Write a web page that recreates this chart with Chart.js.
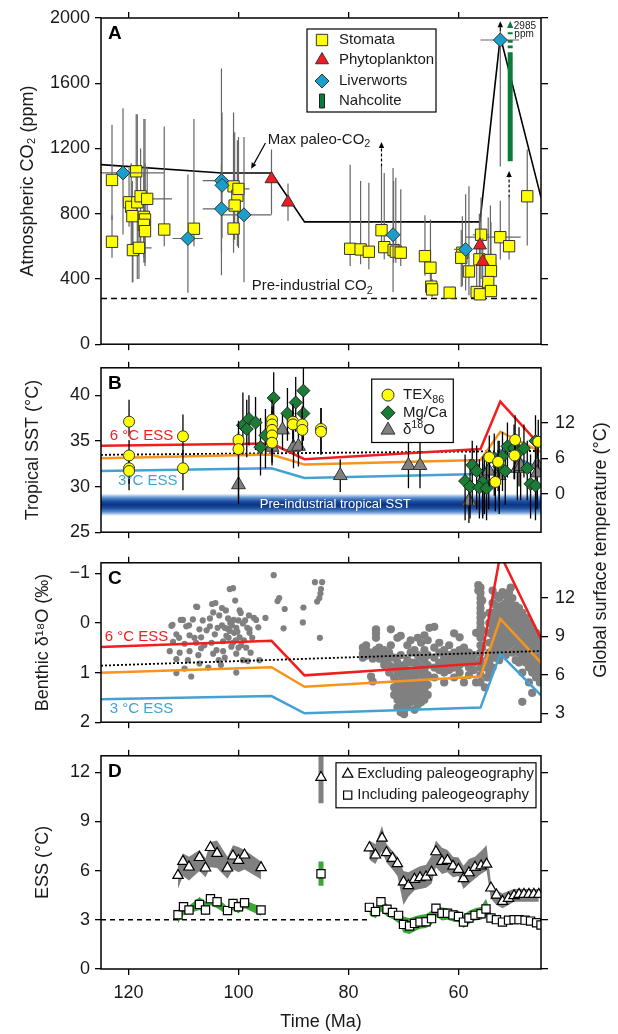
<!DOCTYPE html>
<html>
<head>
<meta charset="utf-8">
<title>Cretaceous–Eocene CO2, temperature and ESS</title>
<script src="https://cdn.jsdelivr.net/npm/chart.js@4.4.0/dist/chart.umd.min.js"></script>
<style>
  html, body { margin: 0; padding: 0; background: #fff; }
  #page { position: relative; width: 618px; height: 1034px; overflow: hidden; font-family: "Liberation Sans", Arial, sans-serif; }
  #page canvas { position: absolute; left: 0; }
  #gst { position: absolute; left: 440px; top: 539px; width: 320px; height: 22px; line-height: 22px;
         font-size: 18px; text-align: center; color: #1a1a1a; transform: rotate(-90deg); white-space: nowrap; }
</style>
</head>
<body>
<div id="page">
  <canvas id="panelA" width="618" height="360" style="top:0px"></canvas>
  <canvas id="panelB" width="618" height="200" style="top:350px"></canvas>
  <canvas id="panelC" width="618" height="195" style="top:545px"></canvas>
  <canvas id="panelD" width="618" height="294" style="top:740px"></canvas>
  <div id="gst">Global surface temperature (°C)</div>
</div>
<script>
// ---------- shared time axis ----------
const AGE_MIN = 45, AGE_MAX = 125;
const AGE_TICKS = [120, 100, 80, 60];

// ---------- panel A: atmospheric CO2 ----------
const stomataAge = [123.0,123.0,118.6,119.9,119.5,119.3,118.4,117.8,116.6,117.2,117.0,117.2,117.0,119.2,118.1,113.5,108.1,100.9,100.2,100.0,100.7,100.9,
  79.7,77.8,76.3,74.0,73.5,71.8,71.4,70.5,66.1,65.1,64.95,64.8,61.6,59.3,59.5,55.9,58.1,56.7,56.1,56.2,54.2,54.1,54.6,54.1,52.4,50.8,47.5];
const stomataCO2 = [1007,628,1060,870,842,785,870,907,891,781,765,732,693,577,591,703,708,968,911,952,850,709,
  585,581,567,699,595,577,567,561,540,469,353,336,316,561,530,671,446,320,306,520,516,448,381,326,656,601,907];
const stomataLo = [760,530,880,720,540,380,400,600,700,530,480,500,500,380,400,600,600,620,600,590,640,560,
  480,490,460,600,520,500,500,480,420,330,300,290,290,357,350,400,300,290,285,350,380,300,300,290,520,520,605];
const stomataHi = [1345,790,1410,1080,1110,1000,1410,1200,1090,1380,1110,1050,1380,900,760,1335,1380,1290,1250,1270,1300,1420,
  1100,1000,990,1090,1050,1000,1020,950,790,765,450,400,350,785,700,900,968,600,500,800,850,750,777,500,880,900,1193];
const stomataAgeErr = [null,null,null,null,null,null,null,null,[112.1,119.5],null,null,null,null,null,[115.8,118.8],null,null,null,null,[98,101],null,null,
  null,null,null,null,null,null,null,null,null,null,null,null,null,null,null,[54.4,57.4],null,null,null,null,null,null,null,null,[48.7,58.7],null,null];

const liverAge = [121.0,109.2,103.1,103.0,103.1,99.0,71.9,58.7,52.4];
const liverCO2 = [1050,648,1003,974,830,793,671,581,1865];
const liverLo = [672,315,423,650,560,380,320,330,1090];
const liverHi = [1447,1040,1690,1420,1100,1270,1080,920,1920];
const liverAgeErr = [[113.5,125],[106.5,112],[101,106.5],null,[101,106.5],[94,103],[71,73.3],[57.8,60.8],[49,56]];

const phytoAge = [94.0,91.0,56.1,55.6];
const phytoCO2 = [1013,870,607,506];
const phytoLo = [796,755,470,380];
const phytoHi = [1193,986,780,650];

const nahAge = [50.6,50.6,50.6,50.6,50.6,50.6,50.6,50.6,50.6,50.6,50.6];
const nahCO2 = [1121,1790,null,1815,1831,null,1849,1865,null,1900,1912];

const maxAge = [125,103,94,88,56.1,52.4,45];
const maxCO2 = [1101,1050,1050,750,750,1886,900];
const preAge = [125,45];
const preCO2 = [280,280];

// ---------- panel B: tropical SST ----------
const texAge = [119.9,119.9,119.9,119.9,110.1,110.1,100.0,100.0,93.9,93.9,93.9,93.9,93.9,90.1,90.1,88.4,88.4,85.0,85.0,54.4,52.8,53.3,49.7,49.8,45.5];
const texSST = [37.1,33.4,32.0,31.7,35.5,32.0,35.1,34.1,37.3,36.8,36.2,35.6,34.8,37.1,36.8,36.8,36.2,36.3,36.0,33.2,32.7,30.5,35.1,33.4,34.9];
const texLo  = [35.5,31.8,30.3,29.6,33.5,29.6,33.0,28.6,35.0,34.8,34.0,33.5,32.6,35.2,34.8,34.6,34.0,33.5,33.5,30.0,29.5,27.3,32.5,30.8,32.0];
const texHi  = [39.5,35.1,33.6,33.5,37.9,34.0,37.2,36.0,39.5,38.8,38.3,37.6,36.8,39.0,38.8,38.8,38.3,38.6,38.6,35.6,35.0,33.0,37.8,35.8,37.3];

const mgAge = [99.2,98.1,98.5,96.9,96.0,95.1,93.6,91.1,89.6,88.2,88.2,
  58.8,57.9,57.5,56.7,55.6,56.2,54.9,53.5,52.6,52.0,51.5,51.1,49.9,49.0,48.1,47.5,46.9,46.0,46.0];
const mgSST = [36.7,37.4,36.3,37.0,34.3,35.6,39.7,38.0,39.2,40.5,38.0,
  30.6,30.0,32.35,31.7,30.5,29.9,29.8,33.1,32.2,33.3,31.7,34.4,34.2,33.8,34.2,32.0,30.3,30.1,35.0];
const mgLo = [33.5,34.5,33.2,34.0,31.2,32.0,36.5,35.0,36.0,37.0,35.0,
  26.3,26.5,28.0,27.5,26.8,26.5,26.3,29.0,28.5,29.5,28.0,31.0,30.8,30.0,31.0,28.5,26.5,26.3,32.0];
const mgHi = [40.3,40.0,39.5,39.8,37.5,38.5,42.5,40.8,42.0,43.0,41.0,
  33.5,33.0,35.0,34.5,33.3,33.0,32.8,35.8,35.0,36.0,34.5,37.0,36.8,36.5,36.8,35.0,33.5,33.0,37.8];

const d18Age = [100.0,93.9,92.0,90.0,89.1,81.5,69.1,67.0,58.1,55.6,55.3,54.5,52.6,49.3,48.7,45.7,45.7];
const d18SST = [30.2,34.3,36.2,34.3,34.4,31.2,32.3,32.3,28.4,30.0,31.0,31.7,31.2,32.0,32.2,32.4,31.5];
const d18Lo  = [28.1,32.3,34.0,32.0,32.2,29.4,29.8,29.8,26.0,26.5,27.0,27.5,27.0,28.5,28.5,28.5,27.5];
const d18Hi  = [32.2,36.3,38.0,36.3,36.5,33.0,34.8,34.8,30.5,32.5,33.5,34.0,33.5,34.5,34.5,35.0,34.0];

const essAge = [125,94,88,56,52.4,45];
const ess6B = [34.46,34.7,33.0,34.1,39.3,34.4];
const essMidB = [33.1,33.5,32.4,32.9,36.0,33.8];
const ess3B = [31.7,32.0,30.94,31.36,34.0,31.9];
const dotAge = [125,45];
const dotB = [33.47,33.9];
const sstBandAge = [125,45];
const sstBandTop = [29.2,29.2];
const sstBandBottom = 26.8;

// ---------- panel C: benthic d18O (left) and global temperature (right) ----------
const ess6C = [8.18,8.66,5.96,6.89,15.4,8.8];
const essMidC = [6.16,6.6,5.07,5.87,10.37,6.96];
const ess3C = [4.09,4.34,3.0,3.44,7.62,4.4];
const dotC = [6.72,7.86];
// Cretaceous and scattered Late Cretaceous values
const benthicK = [
  [93.6,-0.96],[101.6,-0.68],[101.0,-0.70],[100.6,-0.45],[104.8,-0.38],[104.2,-0.40],[107.7,-0.33],[107.5,-0.32],[103.0,-0.30],[99.8,-0.25],[102.3,-0.25],[104.6,-0.21],[99.6,-0.20],[98.1,-0.15],[103.5,-0.15],
  [110.1,-0.06],[110.5,-0.06],[108.3,-0.07],[105.2,-0.09],[101.9,-0.09],[100.9,-0.06],[96.8,-0.06],[95.1,-0.10],[97.2,-0.10],[100.0,-0.05],[98.8,-0.05],[106.5,-0.05],
  [112.2,0.06],[112.0,0.04],[109.5,0.07],[109.0,0.05],[107.1,0.13],[105.2,0.07],[103.8,0.10],[103.0,0.05],[102.5,0.10],[102.0,0.12],[101.6,0.16],[101.5,0.00],[101.2,0.05],[100.4,0.10],[99.2,0.01],[98.4,0.10],[98.0,0.13],[96.4,0.09],
  [111.3,0.23],[110.8,0.30],[108.9,0.25],[108.0,0.30],[106.8,0.29],[105.8,0.15],[104.3,0.23],[102.2,0.26],[101.8,0.30],[100.8,0.20],[100.2,0.18],[99.8,0.29],[98.0,0.20],[97.5,0.30],
  [111.9,0.38],[109.8,0.42],[107.7,0.40],[106.2,0.45],[104.9,0.40],[102.8,0.37],[101.0,0.40],[101.3,0.48],[100.5,0.35],[99.5,0.45],[99.0,0.35],
  [112.5,0.57],[110.7,0.60],[108.9,0.57],[106.8,0.51],[104.6,0.62],[104.0,0.55],[102.8,0.57],[100.4,0.62],[100.0,0.50],[98.6,0.50],[97.8,0.60],
  [111.3,0.73],[109.2,0.75],[107.3,0.65],[107.1,0.82],[103.6,0.75],[102.5,0.70],[99.2,0.75],[98.3,0.77],[96.2,0.75],
  [111.3,1.01],[109.8,0.92],[108.6,1.08],[105.5,0.90],[103.2,0.85],[100.4,1.00],
  [92.9,-0.44],[92.6,-0.50],[91.6,-0.28],[91.8,0.11],[88.2,-0.31],[88.3,-0.01],[86.1,-0.82],[84.8,-0.82],[85.0,-0.68],[85.1,-0.59],[85.3,-0.50],[85.7,-0.43],[85.2,0.30]
];
// dense Maastrichtian to Eocene cloud
const benthicPg = [
  [77.4,0.50],[77.4,0.62],[77.4,0.70],[76.8,0.45],[76.8,0.55],[76.8,0.66],[75.9,1.08],[75.9,0.60],[75.6,1.18],[75.6,0.72],[75.0,0.13],[75.0,0.21],[75.0,0.30],[75.0,0.55],[75.0,0.65],
  [74.4,0.50],[74.4,0.60],[74.4,0.72],[73.5,0.55],[73.5,0.65],[73.5,0.78],[73.5,0.85],[72.6,0.60],[72.6,0.70],[72.6,0.85],[72.6,1.00],[72.3,0.13],[72.3,0.45],
  [71.7,0.70],[71.7,0.90],[71.7,1.10],[71.7,1.30],[71.7,1.45],
  [71.1,0.30],[71.1,0.80],[71.1,1.00],[71.1,1.20],[71.1,1.40],[71.1,1.55],[71.1,1.70],
  [70.5,0.26],[70.5,0.65],[70.5,0.90],[70.5,1.05],[70.5,1.20],[70.5,1.35],[70.5,1.50],[70.5,1.65],[70.5,1.80],
  [69.9,0.85],[69.9,1.00],[69.9,1.15],[69.9,1.30],[69.9,1.45],[69.9,1.60],[69.9,1.75],[69.9,1.84],
  [69.3,0.45],[69.3,0.75],[69.3,0.95],[69.3,1.10],[69.3,1.25],[69.3,1.40],[69.3,1.55],[69.3,1.70],
  [68.7,0.35],[68.7,0.60],[68.7,0.80],[68.7,1.00],[68.7,1.15],[68.7,1.30],[68.7,1.45],[68.7,1.60],
  [68.0,0.55],[68.0,0.80],[68.0,0.95],[68.0,1.10],[68.0,1.25],[68.0,1.40],[68.0,1.55],[68.0,1.75],
  [67.4,0.30],[67.4,0.65],[67.4,0.85],[67.4,1.00],[67.4,1.20],[67.4,1.35],[67.4,1.50],[67.4,1.65],
  [66.8,0.40],[66.8,0.70],[66.8,0.90],[66.8,1.05],[66.8,1.25],[66.8,1.40],[66.8,1.60],
  [66.2,0.25],[66.2,0.55],[66.2,0.75],[66.2,0.95],[66.2,1.15],[66.2,1.35],[66.2,1.55],
  [65.6,0.35],[65.6,0.65],[65.6,0.85],[65.6,1.05],[65.6,1.25],[65.6,1.45],
  [65.3,0.10],[64.4,0.08],[64.4,0.50],[64.4,0.70],[64.4,0.90],[64.4,1.10],
  [63.5,0.40],[63.5,0.60],[63.5,0.80],[63.5,0.95],
  [62.6,0.55],[62.6,0.70],[62.6,0.85],[62.6,1.00],[62.6,1.20],
  [61.7,0.45],[61.7,0.65],[61.7,0.80],[61.7,0.95],
  [60.8,0.21],[60.8,0.60],[60.8,0.75],[60.8,0.90],[60.8,1.10],
  [59.8,0.29],[59.8,0.55],[59.8,0.70],[59.8,0.85],[59.8,1.00],
  [59.0,0.50],[59.0,0.65],[59.0,0.80],[59.0,1.20],
  [58.1,0.60],[58.1,0.75],[58.1,0.90],[58.1,1.05],
  [57.2,0.65],[57.2,0.80],[57.2,0.95],[56.8,0.20],[56.8,1.20],
  [56.4,-0.76],[56.4,-0.65],[56.0,-0.71],[56.0,-0.60],[56.0,-0.50],[56.0,-0.40],[56.0,-0.30],[56.0,-0.20],[56.0,-0.10],[56.0,0.00],[56.0,0.10],[56.0,0.20],
  [56.0,0.30],[56.0,0.45],[56.0,0.60],[56.0,0.75],[56.0,0.90],[56.0,1.05],[56.0,1.20],
  [55.7,-0.45],[55.7,-0.15],[55.7,0.15],[55.7,0.50],[55.7,0.85],
  [55.0,0.90],[54.8,1.10],[55.2,1.30],[54.6,0.70],
  [54.4,-0.20],[54.4,0.00],[54.4,0.20],[54.4,0.40],[54.4,0.60],[54.4,0.80],[54.4,1.00],
  [53.8,-0.65],[53.8,-0.40],[53.8,-0.20],[53.8,-0.05],[53.8,0.10],[53.8,0.25],[53.8,0.40],[53.8,0.55],[53.8,0.70],[53.8,0.90],
  [53.2,-0.55],[53.2,-0.35],[53.2,-0.20],[53.2,-0.05],[53.2,0.10],[53.2,0.25],[53.2,0.40],[53.2,0.55],[53.2,0.70],
  [52.6,-0.50],[52.6,-0.30],[52.6,-0.15],[52.6,0.00],[52.6,0.15],[52.6,0.30],[52.6,0.45],[52.6,0.60],[52.6,0.75],
  [52.0,-0.62],[52.0,-0.35],[52.0,-0.20],[52.0,-0.05],[52.0,0.10],[52.0,0.25],[52.0,0.40],[52.0,0.55],
  [51.4,-0.55],[51.4,-0.40],[51.4,-0.25],[51.4,-0.10],[51.4,0.05],[51.4,0.20],[51.4,0.35],[51.4,0.50],[51.4,0.65],
  [50.8,-0.62],[50.8,-0.45],[50.8,-0.30],[50.8,-0.15],[50.8,0.00],[50.8,0.15],[50.8,0.30],[50.8,0.45],[50.5,-0.71],
  [50.2,-0.50],[50.2,-0.35],[50.2,-0.20],[50.2,-0.05],[50.2,0.10],[50.2,0.25],[50.2,0.40],[50.2,0.60],
  [49.6,-0.35],[49.6,-0.20],[49.6,-0.05],[49.6,0.10],[49.6,0.25],[49.6,0.40],[49.6,0.55],[49.6,0.75],
  [49.0,-0.30],[49.0,-0.15],[49.0,0.00],[49.0,0.15],[49.0,0.30],[49.0,0.45],[49.0,0.60],[49.0,0.80],
  [48.4,-0.20],[48.4,-0.05],[48.4,0.10],[48.4,0.25],[48.4,0.40],[48.4,0.55],[48.4,0.70],[48.4,1.00],[48.4,1.59],
  [47.8,-0.10],[47.8,0.05],[47.8,0.20],[47.8,0.35],[47.8,0.50],[47.8,0.65],[47.8,0.80],
  [47.2,0.00],[47.2,0.15],[47.2,0.30],[47.2,0.45],[47.2,0.60],[47.2,0.75],[47.2,0.90],[47.2,1.20],
  [46.6,0.10],[46.6,0.25],[46.6,0.40],[46.6,0.55],[46.6,0.70],[46.6,0.85],[46.6,1.00],[46.6,1.41],
  [45.9,0.20],[45.9,0.35],[45.9,0.50],[45.9,0.65],[45.9,0.80],[45.9,0.95],[45.9,1.10],
  [45.2,0.30],[45.2,0.45],[45.2,0.60],[45.2,0.75],[45.2,0.90],[45.2,1.05],[45.2,1.20]
];

// ---------- panel D: ESS ----------
const triAgeK = [111.0,110.1,109.0,107.1,106.0,105.1,103.9,102.0,101.0,100.0,98.9,95.9];
const triK = [5.71,6.56,6.22,6.80,6.16,7.41,7.05,6.16,6.89,6.62,6.95,6.18];
const triHiK = [6.36,7.05,6.85,7.25,6.76,7.74,7.84,6.85,7.54,7.44,7.25,6.56];
const triLoK = [4.9,5.67,5.4,5.97,5.6,6.2,6.16,5.5,6.07,5.9,6.07,5.48];
const sqAgeK = [111.0,110.0,109.0,107.1,106.0,105.1,103.9,102.0,101.0,100.0,98.9,95.9];
const sqK = [3.31,3.80,3.60,3.94,3.60,4.29,4.10,3.56,4.00,3.80,4.04,3.60];
const sqHiK = [3.6,3.95,3.85,4.39,4.1,4.49,4.35,3.8,4.29,4.1,4.19,3.8];
const sqLoK = [2.8,3.3,3.4,3.6,3.3,3.9,3.7,3.3,3.6,3.4,3.7,3.25];

const triAgeC = [76.2,75.1,73.9,73.1,72.0,71.1,70.0,69.1,68.0,67.0,65.9,64.9,64.1,63.0,62.0,61.0,60.0,59.1,58.1,57.0,55.9,54.9,54.1,53.1,52.0,50.9,49.9,49.0,48.1,47.2,46.3,45.4];
const triC = [7.39,6.95,7.98,7.09,6.75,6.42,5.31,5.08,5.47,5.57,5.61,5.91,7.15,6.56,6.62,6.27,6.07,5.51,5.87,6.20,6.29,6.39,4.94,4.51,4.12,4.31,4.47,4.55,4.55,4.55,4.55,4.55];
const triHiC = [7.84,7.6,8.73,7.64,7.2,6.85,5.97,5.9,6.1,6.26,6.36,6.9,7.84,7.4,7.25,6.85,6.8,6.3,6.7,6.85,7.2,7.54,5.28,4.8,4.6,4.75,4.88,4.9,4.88,4.88,4.88,4.88];
const triLoC = [6.66,6.4,7.2,6.5,6.07,5.67,3.9,4.4,4.8,4.88,4.95,5.2,6.2,5.8,5.9,5.6,5.67,4.88,5.2,5.5,5.8,6.0,4.29,3.9,3.7,3.9,4.1,4.1,4.1,4.1,4.1,4.1];
const sqAgeC = [76.2,75.1,74.1,73.0,72.0,70.9,70.0,68.9,68.0,67.0,65.9,64.9,64.1,63.0,62.0,61.0,60.0,59.1,58.1,57.0,55.9,55.0,54.1,53.1,52.0,50.9,49.9,49.0,47.9,46.9,45.8,45.0];
const sqC = [3.76,3.50,4.10,3.64,3.45,3.27,2.72,2.62,2.78,2.86,2.88,3.07,3.70,3.40,3.40,3.30,3.20,2.86,3.11,3.27,3.37,3.66,3.11,3.01,2.86,2.98,3.01,3.01,2.98,2.92,2.82,2.68];
const sqHiC = [4.0,3.8,4.39,3.95,3.7,3.45,3.2,3.1,3.2,3.3,3.35,3.55,3.99,3.75,3.7,3.6,3.55,3.3,3.55,3.7,3.8,4.29,3.4,3.2,3.0,3.1,3.15,3.15,3.1,3.05,2.95,2.8];
const sqLoC = [3.3,3.1,3.5,3.2,3.05,2.8,2.22,2.13,2.3,2.45,2.5,2.7,3.2,2.95,3.0,2.9,2.85,2.5,2.75,2.95,3.0,3.2,2.85,2.8,2.7,2.85,2.9,2.9,2.85,2.8,2.7,2.55];

const singleAge = [85.0];
const singleTri = [11.68], singleTriRange = [10.1, 12.96];
const singleSq = [5.81], singleSqRange = [5.08, 6.56];
const essRefAge = [125, 76.5];
const essRef = [3, 3];

// ---------- colours ----------
const RED = '#f01e1e', ORANGE = '#f7941d', SKY = '#43a2d3';
const YELLOW = '#ffff00', LIVER = '#1b9ec9', PHYTO = '#ee1c24', NAH = '#0d7a3a';
const MGCA = '#1a7d35', GREY = '#808080', ESSGREEN = '#3aa635';
const FONT = '"Liberation Sans", Arial, sans-serif';

Chart.defaults.font.family = FONT;
Chart.defaults.color = '#1a1a1a';
Chart.defaults.animation = false;
Chart.defaults.events = [];
Chart.defaults.plugins.legend.display = false;
Chart.defaults.plugins.tooltip.enabled = false;

const pts = (xs, ys) => xs.map((x, i) => ({x, y: ys[i]}));
const pairs = (lo, hi) => lo.map((l, i) => [l, hi[i]]);

function lineDs(data, color, width, extra) {
  return Object.assign({data, borderColor: color, borderWidth: width, pointRadius: 0, fill: false,
    tension: 0, xAxisID: 'x', yAxisID: 'y', order: 10}, extra || {});
}
function pointDs(data, style, r, fill, stroke, extra) {
  return Object.assign({data, showLine: false, pointStyle: style, pointRadius: r,
    pointBackgroundColor: fill, pointBorderColor: stroke, pointBorderWidth: 1,
    borderColor: stroke, backgroundColor: fill, xAxisID: 'x', yAxisID: 'y', order: 1}, extra || {});
}

// axes: ticks outside on all four sides, labels only where the original has them
function scalesFor(g) {
  const grid = len => ({drawOnChartArea: false, drawTicks: true, tickLength: len, color: '#000', lineWidth: 1.3});
  const xAxis = (pos, h, show) => ({
    type: 'linear', position: pos, min: AGE_MIN, max: AGE_MAX, reverse: true,
    afterBuildTicks: s => { s.ticks = AGE_TICKS.map(v => ({value: v})); },
    afterFit: s => { s.height = h; },
    grid: grid(6), border: {display: false},
    ticks: {display: show, autoSkip: false, maxRotation: 0, padding: 7, font: {size: 18}, color: '#1a1a1a'},
    title: (g.xTitle && pos === 'bottom') ? {display: true, text: g.xTitle, font: {size: 18}, color: '#1a1a1a', padding: {top: 0, bottom: 1}} : {display: false}
  });
  const L = g.left, R = g.right;
  return {
    x: xAxis('bottom', g.bottomH, !!g.xTitle),
    x2: xAxis('top', g.topH, false),
    y: {
      type: 'linear', position: 'left', min: L.min, max: L.max, reverse: !!L.reverse,
      afterBuildTicks: s => { s.ticks = L.ticks.map(v => ({value: v})); },
      afterFit: s => { s.width = 101; },
      grid: grid(6), border: {display: false},
      ticks: {padding: 5, font: {size: 18}, color: '#1a1a1a', callback: v => v < 0 ? '\u2212' + Math.abs(v) : String(v)},
      title: {display: true, text: L.title, font: {size: 18}, color: '#1a1a1a', padding: {top: L.titlePad, bottom: 0}}
    },
    y2: {
      type: 'linear', position: 'right', min: R.min, max: R.max,
      afterBuildTicks: s => { s.ticks = R.ticks.map(v => ({value: v})); },
      afterFit: s => { s.width = 77; },
      grid: grid(7), border: {display: false},
      ticks: {display: !!R.labels, padding: 7, font: {size: 18}, color: '#1a1a1a'}
    }
  };
}

// error bars drawn just under the markers of their own dataset
const errorBars = {
  id: 'errorBars',
  beforeDatasetDraw(chart, args) {
    const ds = chart.data.datasets[args.index];
    if (!ds.errY && !ds.errX) return;
    const ctx = chart.ctx, a = chart.chartArea;
    const xs = chart.scales[ds.xAxisID], ys = chart.scales[ds.yAxisID];
    ctx.save();
    ctx.beginPath(); ctx.rect(a.left, a.top, a.right - a.left, a.bottom - a.top); ctx.clip();
    ctx.strokeStyle = ds.errColor || '#000';
    ctx.lineWidth = ds.errWidth || 1.2;
    ds.data.forEach((p, i) => {
      const px = xs.getPixelForValue(p.x), py = ys.getPixelForValue(p.y);
      ctx.beginPath();
      if (ds.errY && ds.errY[i]) { ctx.moveTo(px, ys.getPixelForValue(ds.errY[i][0])); ctx.lineTo(px, ys.getPixelForValue(ds.errY[i][1])); }
      if (ds.errX && ds.errX[i]) { ctx.moveTo(xs.getPixelForValue(ds.errX[i][0]), py); ctx.lineTo(xs.getPixelForValue(ds.errX[i][1]), py); }
      ctx.stroke();
    });
    ctx.restore();
  }
};

// text with sub/superscripts: segs = [[text, 0 normal | 1 sub | 2 sup], ...]
function richText(ctx, segs, x, y, size, color, align) {
  let total = 0;
  const parts = segs.map(([t, m]) => {
    const s = m ? size * 0.72 : size;
    ctx.font = s + 'px ' + FONT;
    const w = ctx.measureText(t).width;
    total += w;
    return {t, m, s, w};
  });
  let cx = align === 'center' ? x - total / 2 : align === 'right' ? x - total : x;
  ctx.fillStyle = color; ctx.textBaseline = 'middle'; ctx.textAlign = 'left';
  parts.forEach(p => {
    ctx.font = p.s + 'px ' + FONT;
    const dy = p.m === 1 ? size * 0.3 : p.m === 2 ? -size * 0.32 : 0;
    ctx.fillText(p.t, cx, y + dy);
    cx += p.w;
  });
}

function arrow(ctx, x0, y0, x1, y1, color, dash, head) {
  const ang = Math.atan2(y1 - y0, x1 - x0);
  const hx = x1 - Math.cos(ang) * head, hy = y1 - Math.sin(ang) * head;
  ctx.save();
  ctx.strokeStyle = color; ctx.fillStyle = color; ctx.lineWidth = 1.2;
  ctx.setLineDash(dash ? [3, 2] : []);
  ctx.beginPath(); ctx.moveTo(x0, y0); ctx.lineTo(hx, hy); ctx.stroke();
  ctx.setLineDash([]);
  ctx.beginPath(); ctx.moveTo(x1, y1);
  ctx.lineTo(hx + Math.sin(ang) * head * 0.45, hy - Math.cos(ang) * head * 0.45);
  ctx.lineTo(hx - Math.sin(ang) * head * 0.45, hy + Math.cos(ang) * head * 0.45);
  ctx.closePath(); ctx.fill();
  ctx.restore();
}

function drawMark(ctx, m, x, y) {
  const r = m.r;
  ctx.save();
  ctx.fillStyle = m.fill; ctx.strokeStyle = m.stroke || '#000'; ctx.lineWidth = m.lw || 1;
  ctx.beginPath();
  if (m.shape === 'rect') { const h = r * Math.SQRT1_2; ctx.rect(x - h, y - h, 2 * h, 2 * h); }
  else if (m.shape === 'rectRot') { ctx.moveTo(x, y - r); ctx.lineTo(x + r, y); ctx.lineTo(x, y + r); ctx.lineTo(x - r, y); ctx.closePath(); }
  else if (m.shape === 'triangle') {
    ctx.moveTo(x, y - r);
    ctx.lineTo(x + r * Math.sin(2 * Math.PI / 3), y - r * Math.cos(2 * Math.PI / 3));
    ctx.lineTo(x - r * Math.sin(2 * Math.PI / 3), y - r * Math.cos(2 * Math.PI / 3));
    ctx.closePath();
  }
  else if (m.shape === 'circle') ctx.arc(x, y, r, 0, Math.PI * 2);
  else if (m.shape === 'bar') ctx.rect(x - 2.5, y - r, 5, 2 * r);
  ctx.fill(); ctx.stroke();
  ctx.restore();
}

function drawLegend(ctx, a, L) {
  const bx = a.left + L.dx, by = a.top + L.dy;
  ctx.save();
  ctx.fillStyle = '#fff'; ctx.fillRect(bx, by, L.w, L.h);
  ctx.strokeStyle = '#000'; ctx.lineWidth = 1.2; ctx.strokeRect(bx, by, L.w, L.h);
  L.rows.forEach(r => {
    drawMark(ctx, r.mark, bx + L.symX, by + r.dy);
    richText(ctx, r.segs, bx + L.textX, by + r.dy, L.size, '#1a1a1a', 'left');
  });
  ctx.restore();
}

// panel frame, panel letter, annotations and legend box
function decor(cfg) {
  return {
    id: 'decor' + cfg.letter,
    afterDatasetsDraw(chart) {
      const ctx = chart.ctx, a = chart.chartArea;
      ctx.save();
      ctx.beginPath(); ctx.rect(a.left, a.top, a.right - a.left, a.bottom - a.top); ctx.clip();
      (cfg.notes || []).forEach(n => {
        const xs = chart.scales.x, ys = chart.scales[n.axis || 'y'];
        if (n.type === 'text') {
          richText(ctx, n.segs, xs.getPixelForValue(n.x), ys.getPixelForValue(n.y), n.size, n.color || '#1a1a1a', n.align || 'left');
        } else {
          arrow(ctx, xs.getPixelForValue(n.x), ys.getPixelForValue(n.y0),
                xs.getPixelForValue(n.x1 !== undefined ? n.x1 : n.x), ys.getPixelForValue(n.y1),
                n.color || '#000', n.dash, n.head || 5);
        }
      });
      ctx.restore();
      if (cfg.legend) drawLegend(ctx, a, cfg.legend);
    },
    afterDraw(chart) {
      const ctx = chart.ctx, a = chart.chartArea;
      ctx.save();
      ctx.strokeStyle = '#000'; ctx.lineWidth = 1.5;
      ctx.strokeRect(a.left, a.top, a.right - a.left, a.bottom - a.top);
      ctx.font = 'bold 19px ' + FONT; ctx.fillStyle = '#000'; ctx.textBaseline = 'middle'; ctx.textAlign = 'left';
      ctx.fillText(cfg.letter, a.left + 7, a.top + 16);
      ctx.restore();
    }
  };
}

// ---------- Panel A ----------
new Chart(document.getElementById('panelA'), {
  type: 'line',
  data: {datasets: [
    lineDs(pts(maxAge, maxCO2), '#000', 1.6, {order: 10}),
    lineDs(pts(preAge, preCO2), '#000', 1.6, {borderDash: [6, 4], order: 10}),
    lineDs(pts(nahAge, nahCO2), NAH, 5, {order: 9, borderCapStyle: 'butt', spanGaps: false}),
    pointDs(pts(stomataAge, stomataCO2), 'rect', 8, YELLOW, '#333', {order: 3, errY: pairs(stomataLo, stomataHi), errX: stomataAgeErr, errColor: '#666', errWidth: 1.2}),
    pointDs(pts(liverAge, liverCO2), 'rectRot', 7, LIVER, '#333', {order: 2, errY: pairs(liverLo, liverHi), errX: liverAgeErr, errColor: '#666', errWidth: 1.2}),
    pointDs(pts(phytoAge, phytoCO2), 'triangle', 7.5, PHYTO, '#333', {order: 1, errY: pairs(phytoLo, phytoHi), errColor: '#666', errWidth: 1.2})
  ]},
  options: {
    responsive: false, layout: {padding: 0},
    scales: scalesFor({topH: 18, bottomH: 15,
      left: {min: 0, max: 2000, ticks: [0, 400, 800, 1200, 1600, 2000], title: 'Atmospheric CO\u2082 (ppm)', titlePad: 17},
      right: {min: 0, max: 2000, ticks: [0, 400, 800, 1200, 1600, 2000], labels: false}})
  },
  plugins: [errorBars, decor({
    letter: 'A',
    notes: [
      {type: 'text', x: 94.7, y: 1254, segs: [['Max paleo-CO', 0], ['2', 1]], size: 15},
      {type: 'arrow', x: 95.1, y0: 1234, x1: 97.7, y1: 1075, head: 6},
      {type: 'text', x: 97.6, y: 355, segs: [['Pre-industrial CO', 0], ['2', 1]], size: 15},
      {type: 'arrow', x: 74.0, y0: 1090, y1: 1240, dash: true, head: 6},
      {type: 'arrow', x: 50.8, y0: 900, y1: 1062, dash: true, head: 6},
      {type: 'arrow', x: 52.4, y0: 1920, y1: 1980, head: 6},
      {type: 'arrow', x: 50.6, y0: 1940, y1: 1982, head: 7, color: NAH},
      {type: 'text', x: 49.95, y: 1952, segs: [['2985', 0]], size: 10},
      {type: 'text', x: 49.85, y: 1903, segs: [['ppm', 0]], size: 10}
    ],
    legend: {dx: 206, dy: 11, w: 129, h: 83, symX: 15, textX: 32, size: 15, rows: [
      {dy: 11, segs: [['Stomata', 0]], mark: {shape: 'rect', r: 8, fill: YELLOW, stroke: '#333'}},
      {dy: 31, segs: [['Phytoplankton', 0]], mark: {shape: 'triangle', r: 7.5, fill: PHYTO, stroke: '#333'}},
      {dy: 52, segs: [['Liverworts', 0]], mark: {shape: 'rectRot', r: 7, fill: LIVER, stroke: '#333'}},
      {dy: 72, segs: [['Nahcolite', 0]], mark: {shape: 'bar', r: 7, fill: NAH, stroke: '#222'}}
    ]}
  })]
});

// ---------- Panel B ----------
function sstBandFill(c) {
  const ch = c.chart, y = ch.scales.y;
  if (!ch.chartArea || !y) return 'rgba(0,0,0,0)';
  const t = y.getPixelForValue(sstBandTop[0]), b = y.getPixelForValue(sstBandBottom);
  const g = ch.ctx.createLinearGradient(0, t, 0, b);
  g.addColorStop(0, 'rgba(90,140,210,0.05)');
  g.addColorStop(0.18, '#5a8fd0');
  g.addColorStop(0.35, '#1d4d9e');
  g.addColorStop(0.5, '#0b3585');
  g.addColorStop(0.65, '#1d4d9e');
  g.addColorStop(0.82, '#5a8fd0');
  g.addColorStop(1, 'rgba(90,140,210,0.05)');
  return g;
}

new Chart(document.getElementById('panelB'), {
  type: 'line',
  data: {datasets: [
    lineDs(pts(sstBandAge, sstBandTop), 'rgba(0,0,0,0)', 0, {fill: {value: sstBandBottom}, backgroundColor: sstBandFill, order: 20}),
    lineDs(pts(essAge, ess3B), SKY, 2.5),
    lineDs(pts(essAge, essMidB), ORANGE, 2.5),
    lineDs(pts(essAge, ess6B), RED, 2.5),
    lineDs(pts(dotAge, dotB), '#000', 1.8, {borderDash: [2, 2]}),
    pointDs(pts(d18Age, d18SST), 'triangle', 8, GREY, '#333', {order: 3, errY: pairs(d18Lo, d18Hi), errWidth: 1.3}),
    pointDs(pts(mgAge, mgSST), 'rectRot', 6.5, MGCA, '#222', {order: 2, errY: pairs(mgLo, mgHi), errWidth: 1.3}),
    pointDs(pts(texAge, texSST), 'circle', 5.5, YELLOW, '#333', {order: 1, errY: pairs(texLo, texHi), errWidth: 1.3})
  ]},
  options: {
    responsive: false, layout: {padding: 0},
    scales: scalesFor({topH: 16, bottomH: 13,
      left: {min: 25, max: 43, ticks: [25, 30, 35, 40], title: 'Tropical SST (°C)', titlePad: 22},
      right: {min: -6.43, max: 21.3, ticks: [0, 6, 12], labels: true}})
  },
  plugins: [errorBars, decor({
    letter: 'B',
    notes: [
      {type: 'text', x: 123.4, y: 35.55, segs: [['6 °C ESS', 0]], size: 15, color: RED},
      {type: 'text', x: 121.9, y: 30.6, segs: [['3°C ESS', 0]], size: 15, color: SKY},
      {type: 'text', x: 82.4, y: 28.0, segs: [['Pre-industrial tropical SST', 0]], size: 13, color: '#fff', align: 'center'}
    ],
    legend: {dx: 270.7, dy: 11.3, w: 81.6, h: 63.4, symX: 16.3, textX: 31.3, size: 15, rows: [
      {dy: 16, segs: [['TEX', 0], ['86', 1]], mark: {shape: 'circle', r: 6, fill: YELLOW, stroke: '#333'}},
      {dy: 33.7, segs: [['Mg/Ca', 0]], mark: {shape: 'rectRot', r: 7, fill: MGCA, stroke: '#222'}},
      {dy: 51, segs: [['\u03b4', 0], ['18', 2], ['O', 0]], mark: {shape: 'triangle', r: 8, fill: GREY, stroke: '#333'}}
    ]}
  })]
});

// ---------- Panel C ----------
new Chart(document.getElementById('panelC'), {
  type: 'line',
  data: {datasets: [
    pointDs(benthicK.map(([x, y]) => ({x, y})), 'circle', 3.1, GREY, GREY, {pointBorderWidth: 0, order: 21}),
    pointDs(benthicPg.map(([x, y]) => ({x, y})), 'circle', 4.1, GREY, GREY, {pointBorderWidth: 0, order: 20}),
    lineDs(pts(dotAge, dotC), '#000', 1.8, {borderDash: [2, 2], yAxisID: 'y2'}),
    lineDs(pts(essAge, ess3C), SKY, 2.5, {yAxisID: 'y2'}),
    lineDs(pts(essAge, essMidC), ORANGE, 2.5, {yAxisID: 'y2'}),
    lineDs(pts(essAge, ess6C), RED, 2.5, {yAxisID: 'y2'})
  ]},
  options: {
    responsive: false, layout: {padding: 0},
    scales: scalesFor({topH: 12, bottomH: 13,
      left: {min: -1.21, max: 2, reverse: true, ticks: [-1, 0, 1, 2], title: 'Benthic \u03b4\u00b9\u2078O (\u2030)', titlePad: 32},
      right: {min: 2.3, max: 14.75, ticks: [3, 6, 9, 12], labels: true}})
  },
  plugins: [decor({
    letter: 'C',
    notes: [
      {type: 'text', axis: 'y2', x: 124.3, y: 9.0, segs: [['6 °C ESS', 0]], size: 15, color: RED},
      {type: 'text', axis: 'y2', x: 123.4, y: 3.36, segs: [['3 °C ESS', 0]], size: 15, color: SKY}
    ]
  })]
});

// ---------- Panel D ----------
new Chart(document.getElementById('panelD'), {
  type: 'line',
  data: {datasets: [
    lineDs(pts(triAgeK, triHiK), GREY, 0, {fill: '+1', backgroundColor: GREY, order: 20}),
    lineDs(pts(triAgeK, triLoK), GREY, 0, {order: 20}),
    lineDs(pts(triAgeC, triHiC), GREY, 0, {fill: '+1', backgroundColor: GREY, order: 20}),
    lineDs(pts(triAgeC, triLoC), GREY, 0, {order: 20}),
    lineDs(pts(sqAgeK, sqHiK), ESSGREEN, 0, {fill: '+1', backgroundColor: ESSGREEN, order: 19}),
    lineDs(pts(sqAgeK, sqLoK), ESSGREEN, 0, {order: 19}),
    lineDs(pts(sqAgeC, sqHiC), ESSGREEN, 0, {fill: '+1', backgroundColor: ESSGREEN, order: 19}),
    lineDs(pts(sqAgeC, sqLoC), ESSGREEN, 0, {order: 19}),
    lineDs(pts(essRefAge, essRef), '#000', 1.5, {borderDash: [5, 4], order: 15}),
    lineDs(pts([singleAge[0], singleAge[0]], singleTriRange), GREY, 5, {order: 12, borderCapStyle: 'butt'}),
    lineDs(pts([singleAge[0], singleAge[0]], singleSqRange), ESSGREEN, 5, {order: 12, borderCapStyle: 'butt'}),
    pointDs(pts(triAgeK.concat(singleAge, triAgeC), triK.concat(singleTri, triC)), 'triangle', 6, '#fff', '#000', {order: 2, pointBorderWidth: 1.2}),
    pointDs(pts(sqAgeK.concat(singleAge, sqAgeC), sqK.concat(singleSq, sqC)), 'rect', 5.8, '#fff', '#000', {order: 1, pointBorderWidth: 1.2})
  ]},
  options: {
    responsive: false, layout: {padding: 0},
    scales: scalesFor({topH: 9, bottomH: 65, xTitle: 'Time (Ma)',
      left: {min: 0, max: 13, ticks: [0, 3, 6, 9, 12], title: 'ESS (°C)', titlePad: 32},
      right: {min: 0, max: 13, ticks: [0, 3, 6, 9, 12], labels: false}})
  },
  plugins: [decor({
    letter: 'D',
    legend: {dx: 235, dy: 7, w: 200, h: 45, symX: 11.7, textX: 21.3, size: 15, rows: [
      {dy: 11.3, segs: [['Excluding paleogeography', 0]], mark: {shape: 'triangle', r: 6, fill: '#fff', stroke: '#000', lw: 1.2}},
      {dy: 32.3, segs: [['Including paleogeography', 0]], mark: {shape: 'rect', r: 5.8, fill: '#fff', stroke: '#000', lw: 1.2}}
    ]}
  })]
});
</script>
</body>
</html>
